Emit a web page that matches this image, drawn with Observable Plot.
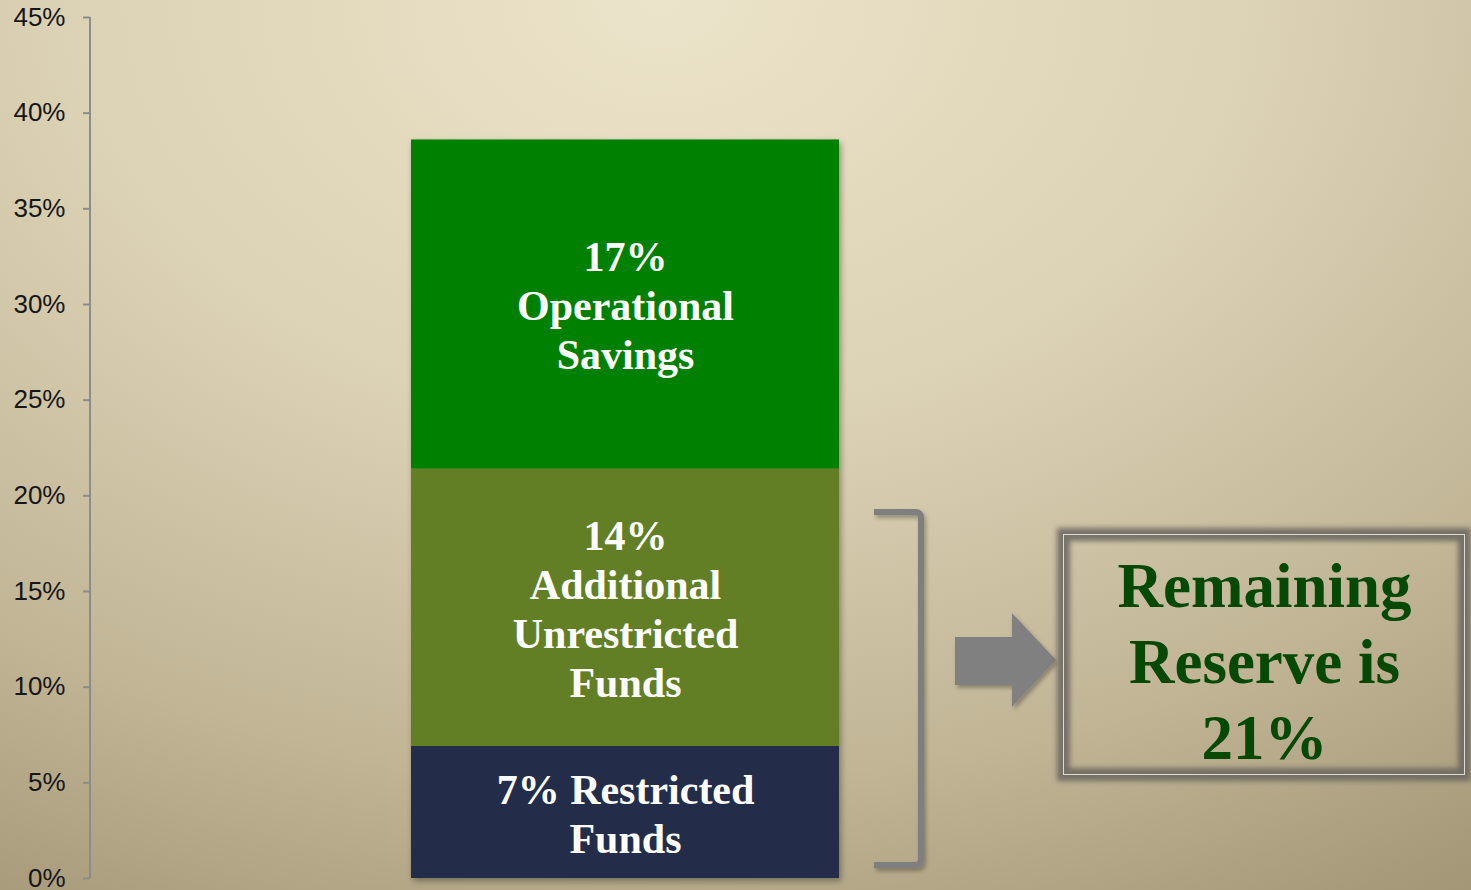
<!DOCTYPE html>
<html>
<head>
<meta charset="utf-8">
<script src="https://cdn.jsdelivr.net/npm/d3@7"></script>
<script src="https://cdn.jsdelivr.net/npm/@observablehq/plot@0.6"></script>
<style>
  html, body { margin: 0; padding: 0; overflow: hidden; }
  body { width: 1471px; height: 890px; }
  #wrap {
    position: relative; width: 1471px; height: 890px;
    background: radial-gradient(ellipse 115% 135% at 45% 0%, #ece4ca 0%, #dcd2b5 35%, #c1b596 65%, #a79a7b 85%, #978a6a 100%);
  }
  #chart { position: absolute; left: 0; top: 0; }
  #chart svg g[aria-label="bar"] { filter: drop-shadow(2px 3px 3px rgba(0,0,0,0.35)); }
  #anno { position: absolute; left: 0; top: 0; pointer-events: none; }
  #box {
    position: absolute; left: 1063px; top: 534px; width: 400px; height: 239px;
    border: 1.5px solid #dedbd3;
    box-shadow: 0 0 5px 6px rgba(104,101,95,0.85), inset 0 0 5px 6px rgba(104,101,95,0.85);
  }
  #boxtext {
    position: absolute; left: 1063px; top: 548px; width: 403px;
    text-align: center; font-family: "Liberation Serif", serif; font-weight: bold;
    font-size: 63px; line-height: 76px; color: #064806;
  }
</style>
</head>
<body>
<div id="wrap">
  <div id="chart"></div>
  <svg id="anno" width="1471" height="890">
    <defs>
      <filter id="sh" x="-20%" y="-20%" width="140%" height="140%">
        <feDropShadow dx="2" dy="3" stdDeviation="2" flood-color="#000" flood-opacity="0.3"/>
      </filter>
    </defs>
    <path d="M874,512 L915,512 Q921,512 921,518 L921,859 Q921,865 915,865 L874,865" fill="none" stroke="#7f7f7f" stroke-width="6" filter="url(#sh)"/>
    <polygon points="955,637 1012,637 1012,613 1056,660 1012,707 1012,685 955,685" fill="#808080" filter="url(#sh)"/>
  </svg>
  <div id="box"></div>
  <div id="boxtext">Remaining<br>Reserve is<br>21%</div>
</div>
<script>
// Data
const categories = ["Reserve"];
const segments = ["Restricted Funds", "Additional Unrestricted Funds", "Operational Savings"];
const values = [0.069, 0.145, 0.172];
const labels = ["7% Restricted\nFunds", "14%\nAdditional\nUnrestricted\nFunds", "17%\nOperational\nSavings"];
const colors = ["#232d4a", "#627f26", "#008000"];
const yTicks = [0, 0.05, 0.10, 0.15, 0.20, 0.25, 0.30, 0.35, 0.40, 0.45];

const data = segments.map((s, i) => ({category: categories[0], segment: s, value: values[i], label: labels[i]}));

const axisLine = (index, scales, vals, dims) => {
  const line = d3.create("svg:line")
    .attr("x1", dims.marginLeft).attr("x2", dims.marginLeft)
    .attr("y1", scales.y(0)).attr("y2", scales.y(d3.max(yTicks)))
    .attr("stroke", "#8c8c8c").attr("stroke-width", 2);
  return line.node();
};

const plot = Plot.plot({
  width: 1471,
  height: 890,
  marginLeft: 90,
  marginRight: 311,
  marginTop: 17,
  marginBottom: 12,
  style: {background: "transparent", fontFamily: "Liberation Sans, Arial, sans-serif"},
  x: {domain: categories, type: "band", paddingInner: 0, paddingOuter: 0.75, axis: null},
  y: {domain: [0, 0.45], axis: null},
  color: {domain: segments, range: colors},
  marks: [
    Plot.barY(data, {x: "category", y: "value", fill: "segment"}),
    Plot.text(data, Plot.stackY({
      x: "category", y: "value", text: "label",
      fill: "white", fontFamily: "Liberation Serif, Times New Roman, serif",
      fontWeight: "bold", fontSize: 42, lineHeight: 1.167
    })),
    Plot.axisY({
      ticks: yTicks, tickFormat: d3.format(".0%"), tickSize: 7, tickPadding: 18,
      fontSize: 26, fill: "#161616", stroke: "#8c8c8c", strokeWidth: 2, label: null
    }),
    axisLine
  ]
});
document.getElementById("chart").appendChild(plot);
</script>
</body>
</html>
